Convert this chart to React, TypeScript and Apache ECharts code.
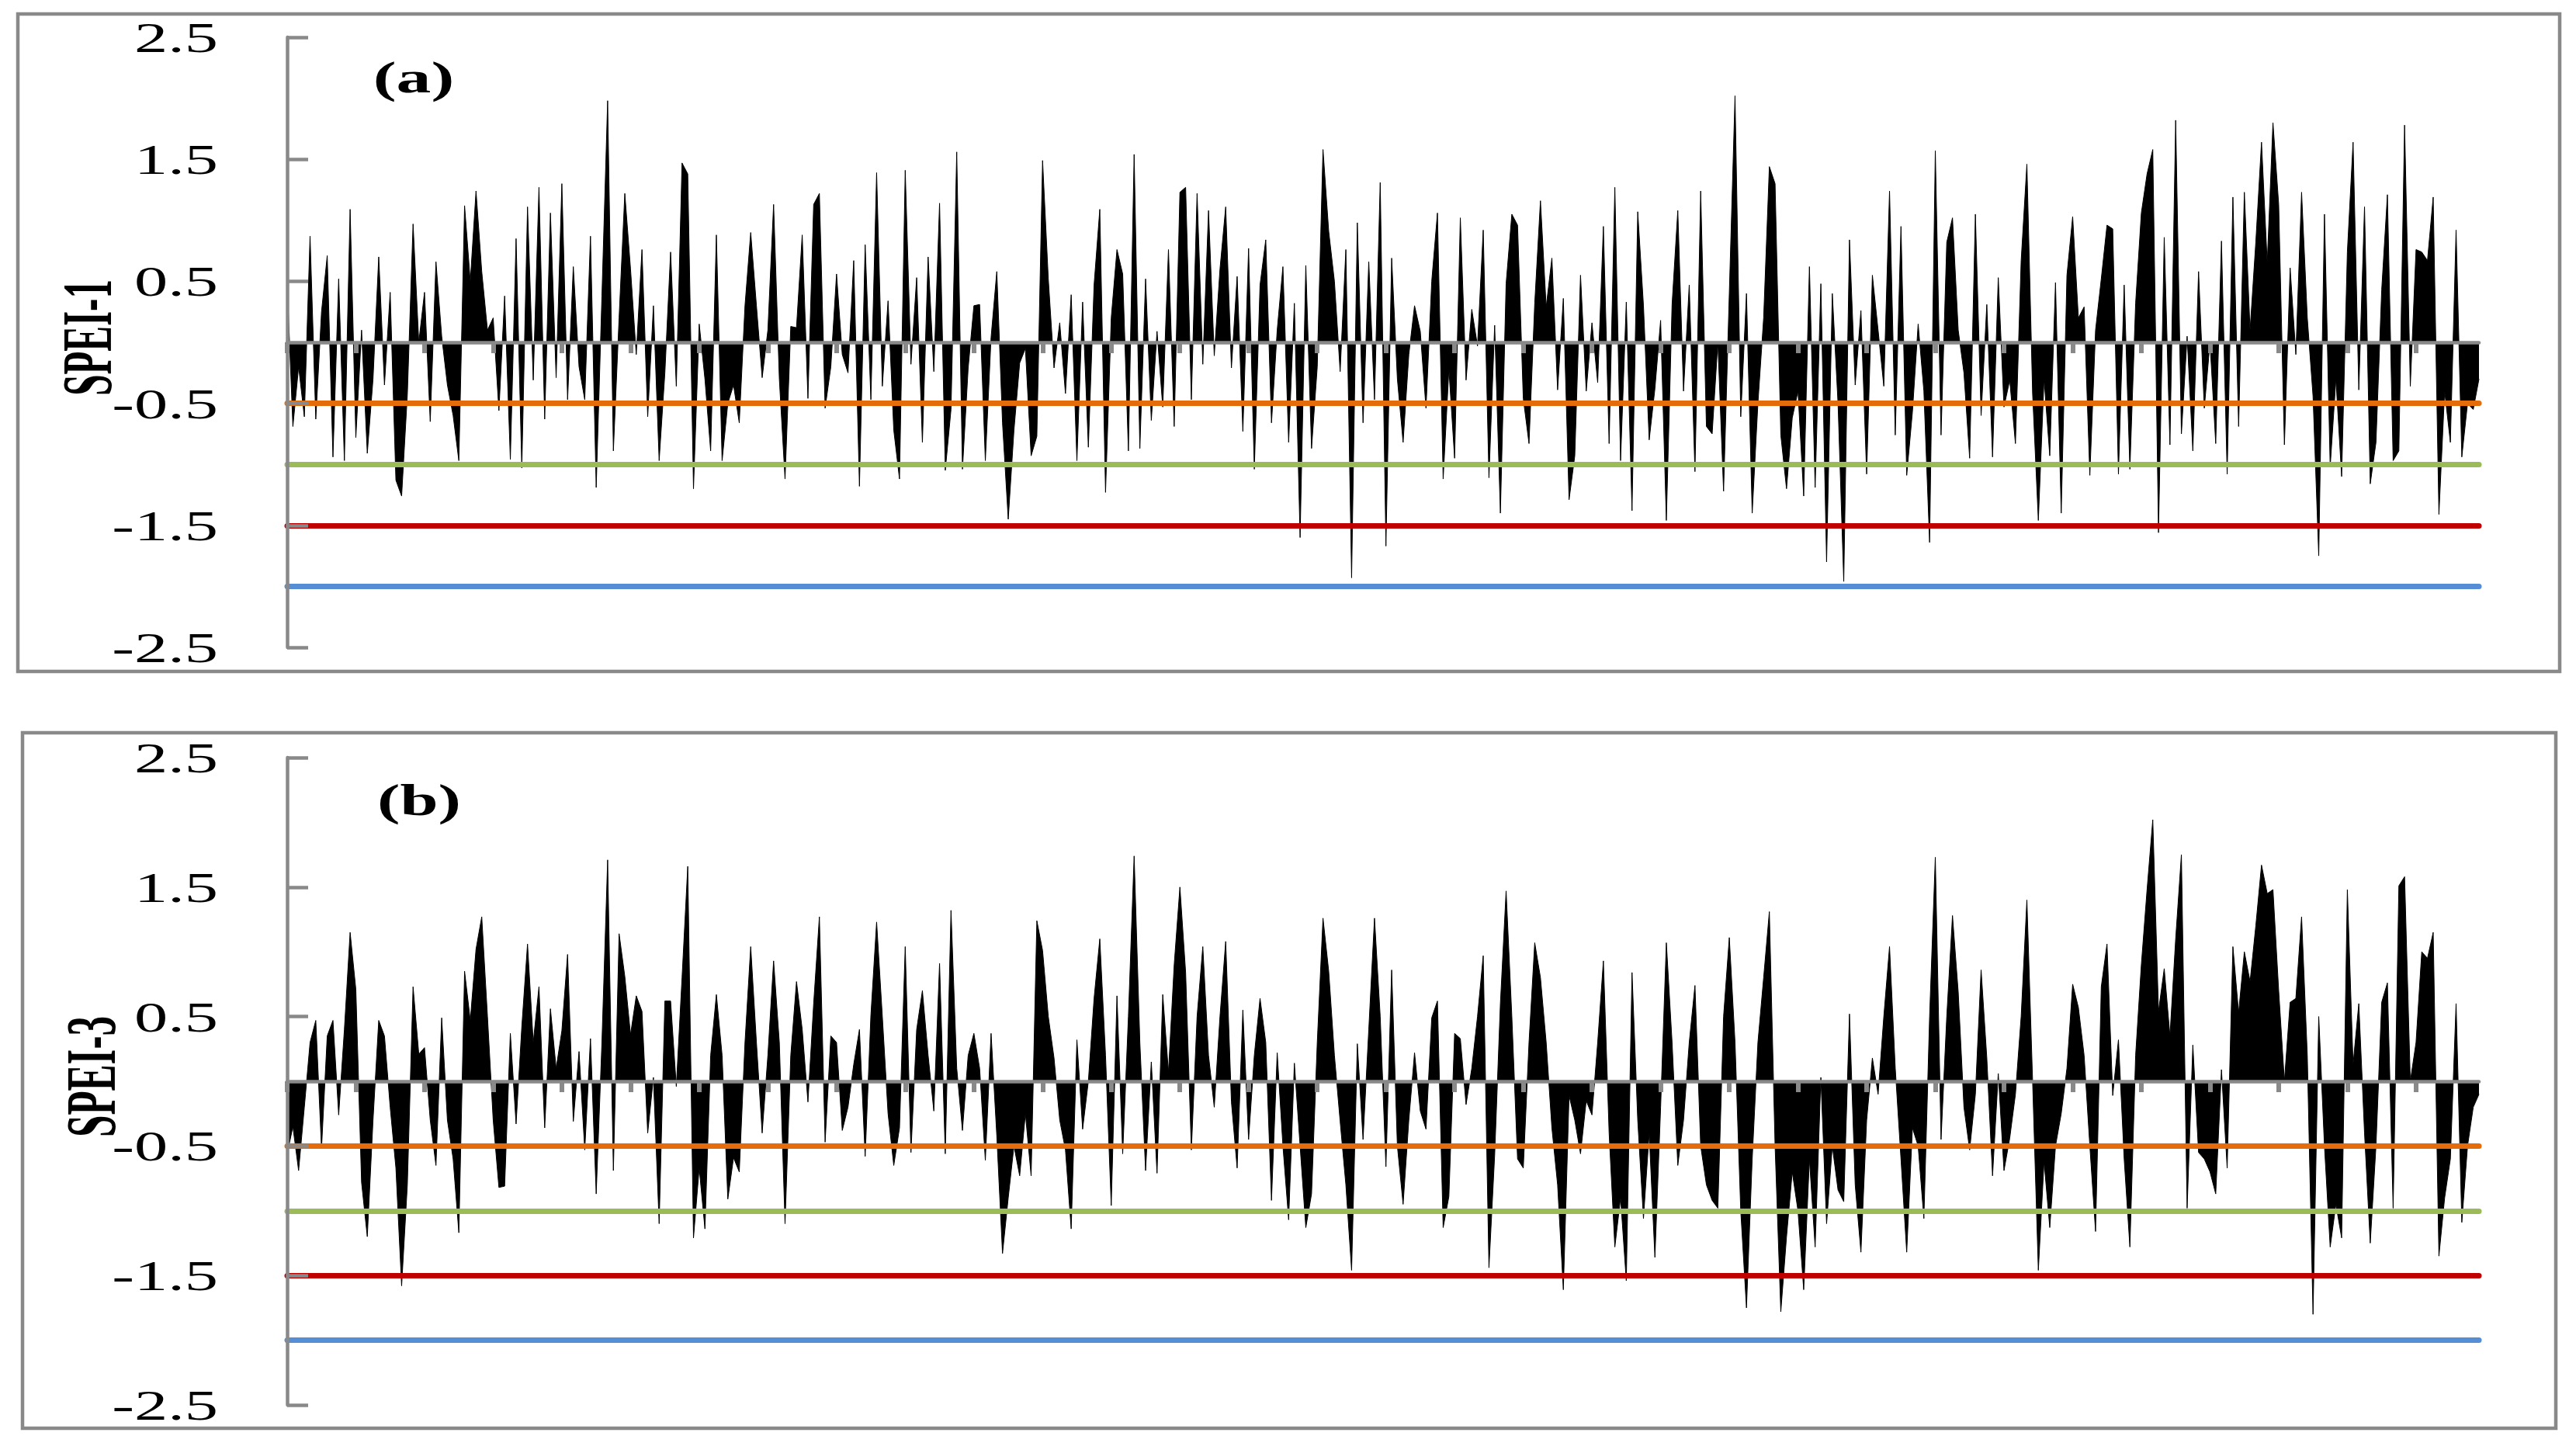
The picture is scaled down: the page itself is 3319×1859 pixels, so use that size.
import React, { useEffect, useRef } from "react";
import * as echarts from "echarts";

// SPEI-1 monthly values (panel a)
const spei1: number[] = [
  0.48, -0.69, -0.2, -0.61, 0.87, -0.63, 0.25, 0.71, -0.94, 0.52, -0.97, 1.09,
  -0.78, 0.1, -0.91, -0.3, 0.7, -0.35, 0.41, -1.13, -1.26, -0.43, 0.97, 0.0,
  0.41, -0.65, 0.66, 0.05, -0.35, -0.6, -0.97, 1.12, 0.5, 1.24, 0.58, 0.1,
  0.2, -0.56, 0.38, -0.96, 0.85, -1.03, 1.11, -0.31, 1.27, -0.63, 1.06, -0.29,
  1.3, -0.47, 0.62, -0.2, -0.47, 0.87, -1.19, 0.38, 1.98, -0.89, 0.2, 1.22,
  0.6, -0.1, 0.76, -0.61, 0.3, -0.97, -0.25, 0.74, -0.36, 1.47, 1.38, -1.2,
  0.15, -0.3, -0.89, 0.88, -0.97, -0.5, -0.35, -0.66, 0.3, 0.9, 0.3, -0.29,
  0.1, 1.13, -0.3, -1.12, 0.13, 0.12, 0.88, -0.46, 1.13, 1.22, -0.54, -0.2,
  0.56, -0.1, -0.25, 0.67, -1.18, 0.8, -0.47, 1.39, -0.36, 0.34, -0.72, -1.12,
  1.41, -0.18, 0.53, -0.82, 0.7, -0.24, 1.14, -1.05, -0.55, 1.56, -1.04, -0.21,
  0.3, 0.31, -0.97, 0.04, 0.58, -0.66, -1.45, -0.72, -0.17, -0.05, -0.93, -0.77,
  1.49, 0.52, -0.21, 0.16, -0.42, 0.39, -0.97, 0.33, -0.86, 0.47, 1.09, -1.23,
  0.2, 0.76, 0.56, -0.89, 1.54, -0.87, 0.52, -0.64, 0.09, -0.53, 0.76, -0.69,
  1.23, 1.27, -0.47, 1.22, -0.18, 1.08, -0.11, 0.6, 1.11, -0.21, 0.54, -0.73,
  0.77, -1.04, 0.47, 0.84, -0.66, 0.1, 0.62, -0.82, 0.32, -1.6, 0.63, -0.87,
  -0.2, 1.58, 0.91, 0.5, -0.24, 0.76, -1.93, 0.98, -0.66, 0.66, -0.47, 1.31,
  -1.67, 0.69, -0.3, -0.82, -0.1, 0.3, 0.09, -0.54, 0.5, 1.06, -1.12, -0.22,
  -0.95, 1.02, -0.31, 0.27, -0.03, 0.92, -1.11, 0.14, -1.4, 0.48, 1.05, 0.96,
  -0.46, -0.83, 0.32, 1.16, 0.29, 0.69, -0.39, 0.36, -1.29, -0.93, 0.55, -0.4,
  0.16, -0.33, 0.95, -0.83, 1.27, -0.97, 0.33, -1.38, 1.07, 0.3, -0.8, -0.38,
  0.18, -1.46, 0.31, 1.08, -0.4, 0.47, -1.06, 1.24, -0.69, -0.75, 0.0, -1.22,
  0.4, 2.02, -0.61, 0.4, -1.4, -0.5, 0.2, 1.44, 1.3, -0.76, -1.2, -0.62,
  -0.4, -1.26, 0.62, -1.19, 0.48, -1.8, 0.4, -0.5, -1.96, 0.84, -0.35, 0.26,
  -1.08, 0.55, 0.1, -0.36, 1.24, -0.76, 0.95, -1.09, -0.57, 0.15, -0.4, -1.64,
  1.57, -0.76, 0.82, 1.02, 0.1, -0.25, -0.95, 1.05, -0.6, 0.31, -0.94, 0.53,
  -0.53, -0.31, -0.83, 0.67, 1.46, -0.42, -1.46, -0.3, -0.93, 0.49, -1.4, 0.55,
  1.03, 0.2, 0.29, -1.09, 0.1, 0.52, 0.96, 0.93, -1.08, 0.47, -1.04, 0.32,
  1.06, 1.38, 1.58, -1.56, 0.86, -0.84, 1.82, -0.75, 0.05, -0.89, 0.58, -0.54,
  0.0, -0.83, 0.83, -1.08, 1.19, -0.69, 1.23, 0.1, 0.82, 1.64, 0.65, 1.8,
  1.13, -0.84, 0.61, -0.1, 1.23, 0.2, -0.44, -1.75, 1.05, -1.02, -0.3, -1.1,
  0.74, 1.64, -0.39, 1.11, -1.16, -0.82, 0.43, 1.21, -0.97, -0.89, 1.78, -0.36,
  0.76, 0.74, 0.67, 1.19, -1.41, -0.4, -0.82, 0.92, -0.94, -0.5, -0.55, -0.3,
];

// SPEI-3 monthly values (panel b)
const spei3: number[] = [
  -0.56, -0.35, -0.69, -0.2, 0.3, 0.47, -0.52, 0.35, 0.47, -0.26, 0.4, 1.15,
  0.71, -0.78, -1.2, -0.3, 0.47, 0.35, -0.2, -0.67, -1.58, -0.8, 0.73, 0.21,
  0.26, -0.3, -0.65, 0.49, -0.3, -0.6, -1.17, 0.85, 0.47, 1.02, 1.27, 0.5,
  -0.3, -0.82, -0.81, 0.37, -0.33, 0.42, 1.06, 0.3, 0.73, -0.36, 0.56, 0.1,
  0.39, 0.98, -0.31, 0.23, -0.53, 0.33, -0.87, 0.3, 1.71, -0.69, 1.14, 0.81,
  0.36, 0.66, 0.54, -0.4, 0.03, -1.1, 0.62, 0.62, -0.04, 0.8, 1.66, -1.21,
  -0.67, -1.14, 0.2, 0.67, 0.2, -0.91, -0.59, -0.7, 0.3, 1.04, 0.3, -0.4,
  0.2, 0.93, 0.3, -1.1, 0.2, 0.77, 0.4, -0.16, 0.6, 1.27, -0.47, 0.35,
  0.3, -0.38, -0.2, 0.13, 0.4, -0.58, 0.51, 1.23, 0.5, -0.25, -0.65, -0.36,
  1.04, -0.55, 0.4, 0.7, 0.2, -0.23, 0.91, -0.56, 1.32, 0.1, -0.38, 0.2,
  0.37, 0.1, -0.61, 0.37, -0.42, -1.33, -0.9, -0.5, -0.73, -0.25, -0.73, 1.24,
  1.01, 0.5, 0.18, -0.3, -0.53, -1.14, 0.32, -0.37, 0.0, 0.64, 1.1, 0.2,
  -0.96, 0.66, -0.56, 0.5, 1.74, 0.3, -0.69, 0.15, -0.71, 0.67, 0.07, 0.9,
  1.5, 0.84, -0.53, 0.5, 1.04, 0.2, -0.2, 0.5, 1.08, -0.16, -0.67, 0.55,
  -0.45, 0.2, 0.64, 0.3, -0.92, 0.22, -0.5, -1.07, 0.14, -0.5, -1.13, -0.87,
  0.3, 1.26, 0.85, 0.2, -0.31, -0.8, -1.46, 0.29, -0.45, 0.4, 1.26, 0.5,
  -0.66, 0.86, -0.5, -0.95, -0.3, 0.22, -0.23, -0.37, 0.49, 0.62, -1.13, -0.89,
  0.37, 0.33, -0.18, 0.1, 0.5, 0.97, -1.44, -0.57, 0.6, 1.47, 0.5, -0.6,
  -0.67, 0.3, 1.07, 0.8, 0.3, -0.36, -0.8, -1.61, -0.11, -0.3, -0.56, -0.15,
  -0.26, 0.3, 0.93, -0.4, -1.28, -0.9, -1.54, 0.84, -0.3, -1.06, -0.4, -1.36,
  -0.2, 1.07, 0.3, -0.65, -0.3, 0.3, 0.74, -0.5, -0.8, -0.92, -0.98, 0.5,
  1.11, 0.3, -1.0, -1.75, -0.6, 0.3, 0.8, 1.31, -0.5, -1.78, -1.2, -0.7,
  -1.0, -1.61, -0.6, -1.28, 0.03, -1.1, -0.5, -0.84, -0.93, 0.52, -0.8, -1.32,
  -0.3, 0.18, -0.1, 0.5, 1.04, 0.1, -0.6, -1.32, -0.36, -0.5, -1.06, 0.5,
  1.73, -0.45, 0.5, 1.28, 0.69, -0.2, -0.53, -0.1, 0.86, 0.18, -0.73, 0.06,
  -0.69, -0.44, -0.1, 0.5, 1.4, 0.0, -1.46, -0.62, -1.13, -0.5, -0.25, 0.1,
  0.75, 0.57, 0.2, -0.5, -1.16, 0.73, 1.06, -0.11, 0.32, -0.6, -1.28, 0.2,
  0.9, 1.48, 2.02, 0.54, 0.87, 0.35, 1.1, 1.75, -0.98, 0.28, -0.55, -0.6,
  -0.7, -0.87, 0.09, -0.67, 1.04, 0.53, 1.0, 0.77, 1.2, 1.67, 1.45, 1.48,
  0.7, 0.0, 0.61, 0.64, 1.27, 0.2, -1.8, 0.5, -0.5, -1.28, -0.95, -1.21,
  1.48, 0.13, 0.6, -0.4, -1.25, -0.5, 0.61, 0.76, -0.98, 1.51, 1.58, 0.0,
  0.3, 1.0, 0.95, 1.15, -1.35, -0.9, -0.6, 0.6, -1.09, -0.5, -0.2, -0.1,
];

const months: string[] = spei1.map((_, i) => String(i + 1));
const thresholds = [-0.5, -1, -1.5, -2];
const thresholdColors = ["#E46C0A", "#9BBB59", "#C00000", "#558ED5"];
const tickValues = [2.5, 1.5, 0.5, -0.5, -1.5, -2.5];
const tickLabels = ["2.5", "1.5", "0.5", "-0.5", "-1.5", "-2.5"];
const panelTitles = ["(a)", "(b)"];
const axisNames = ["SPEI-1", "SPEI-3"];

export default function App() {
  const ref = useRef<HTMLDivElement>(null);

  useEffect(() => {
    const el = ref.current;
    if (!el) return;
    const chart = echarts.init(el, undefined, { renderer: "svg" });
    const gray = "#898989";

    const grids = [
      { left: 370, top: 48, width: 2824, height: 786 },
      { left: 370, top: 976, width: 2824, height: 834 },
    ];
    const panelData = [spei1, spei3];

    const option: any = {
      animation: false,
      backgroundColor: "#ffffff",
      grid: grids.map((g) => ({ ...g, containLabel: false })),
      xAxis: grids.map((_, i) => ({
        type: "category",
        gridIndex: i,
        data: months,
        boundaryGap: false,
        z: 10,
        axisLine: { show: true, onZero: true, lineStyle: { color: gray, width: 4.5 } },
        axisTick: { show: true, interval: 11, length: 14, lineStyle: { color: gray, width: 6 } },
        axisLabel: { show: false },
        splitLine: { show: false },
      })),
      yAxis: grids.map((_, i) => ({
        type: "value",
        gridIndex: i,
        min: -2.5,
        max: 2.5,
        interval: 1,
        z: 10,
        axisLine: { show: true, lineStyle: { color: gray, width: 4.5 } },
        axisTick: { show: true, inside: true, length: 27, lineStyle: { color: gray, width: 4.5 } },
        axisLabel: { show: false },
        splitLine: { show: false },
      })),
      series: panelData.map((data, i) => ({
        type: "line",
        name: axisNames[i],
        xAxisIndex: i,
        yAxisIndex: i,
        data,
        symbol: "none",
        showSymbol: false,
        lineStyle: { color: "#000000", width: 1 },
        areaStyle: { color: "#000000", opacity: 1, origin: 0 },
        z: 2,
        markLine: {
          silent: true,
          symbol: ["none", "none"],
          label: { show: false },
          animation: false,
          data: thresholds.map((v, k) => ({
            yAxis: v,
            lineStyle: { color: thresholdColors[k], width: 7, type: "solid", cap: "round" },
          })),
        },
      })),
    };

    chart.setOption(option);

    const graphics: any[] = [
      {
        type: "rect",
        silent: true,
        shape: { x: 23, y: 18, width: 3275, height: 847 },
        style: { fill: "none", stroke: gray, lineWidth: 4.5 },
      },
      {
        type: "rect",
        silent: true,
        shape: { x: 29, y: 944, width: 3264, height: 896 },
        style: { fill: "none", stroke: gray, lineWidth: 4.5 },
      },
    ];

    const titlePos = [
      { x: 533, y: 100, font: 56, sx: 1.6 },
      { x: 540, y: 1031, font: 57, sx: 1.55 },
    ];
    const namePos = [
      { x: 113, font: 49, sy: 1.85 },
      { x: 117, font: 51, sy: 1.8 },
    ];

    for (let i = 0; i < 2; i++) {
      tickValues.forEach((v, k) => {
        const py = chart.convertToPixel({ yAxisIndex: i } as any, v) as number;
        graphics.push({
          type: "text",
          silent: true,
          x: 281,
          y: py + 1,
          scaleX: 1.6,
          style: {
            text: tickLabels[k],
            font: '54px "Liberation Serif"',
            fill: "#000000",
            textAlign: "right",
            align: "right",
            textVerticalAlign: "middle",
            verticalAlign: "middle",
          },
        });
      });
      const zeroY = chart.convertToPixel({ yAxisIndex: i } as any, 0) as number;
      graphics.push({
        type: "text",
        silent: true,
        x: namePos[i].x,
        y: zeroY - 6,
        rotation: Math.PI / 2,
        scaleY: namePos[i].sy,
        style: {
          text: axisNames[i],
          font: `bold ${namePos[i].font}px "Liberation Serif"`,
          fill: "#000000",
          textAlign: "center",
          align: "center",
          textVerticalAlign: "middle",
          verticalAlign: "middle",
        },
      });
      graphics.push({
        type: "text",
        silent: true,
        x: titlePos[i].x,
        y: titlePos[i].y,
        scaleX: titlePos[i].sx,
        style: {
          text: panelTitles[i],
          font: `bold ${titlePos[i].font}px "Liberation Serif"`,
          fill: "#000000",
          textAlign: "center",
          align: "center",
          textVerticalAlign: "middle",
          verticalAlign: "middle",
        },
      });
    }

    chart.setOption({ graphic: { elements: graphics } });

    return () => {
      chart.dispose();
    };
  }, []);

  return (
    <div
      ref={ref}
      style={{ position: "fixed", left: 0, top: 0, width: 3319, height: 1859, background: "#ffffff" }}
    />
  );
}
